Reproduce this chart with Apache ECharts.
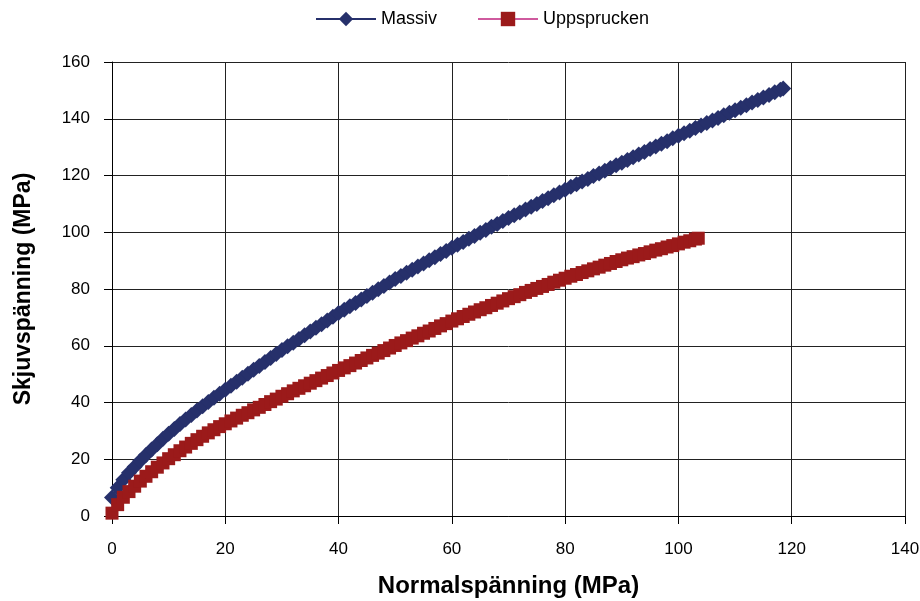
<!DOCTYPE html>
<html>
<head>
<meta charset="utf-8">
<script src="https://cdn.jsdelivr.net/npm/echarts@6/dist/echarts.min.js"></script>
<style>
  html, body { margin: 0; padding: 0; background: #ffffff; }
  #chart { width: 920px; height: 601px; }
</style>
</head>
<body>
<div id="chart"></div>
<script>
// Shear strength envelopes: shear stress vs normal stress (MPa)
const seriesNames = ['Massiv', 'Uppsprucken'];
const xTicks = [0, 20, 40, 60, 80, 100, 120, 140];
const yTicks = [0, 20, 40, 60, 80, 100, 120, 140, 160];

// Massiv: [normal stress, shear stress]
const massiv = [
  [0, 6.5], [1, 10.0], [2, 12.8], [3, 15.2], [4, 17.4], [5, 19.5], [6, 21.5], [7, 23.4], [8, 25.3], [9, 27.2],
  [10, 29.0], [11, 30.7], [12, 32.4], [13, 34.0], [14, 35.6], [15, 37.2], [16, 38.7], [17, 40.2], [18, 41.7], [19, 43.1],
  [20, 44.5], [21, 45.9], [22, 47.3], [23, 48.7], [24, 50.1], [25, 51.5], [26, 52.9], [27, 54.3], [28, 55.7], [29, 57.1],
  [30, 58.5], [31, 59.8], [32, 61.1], [33, 62.4], [34, 63.7], [35, 65.0], [36, 66.3], [37, 67.6], [38, 68.9], [39, 70.2],
  [40, 71.5], [41, 72.7], [42, 73.9], [43, 75.1], [44, 76.3], [45, 77.5], [46, 78.7], [47, 79.9], [48, 81.1], [49, 82.3],
  [50, 83.5], [51, 84.6], [52, 85.7], [53, 86.8], [54, 87.9], [55, 89.0], [56, 90.1], [57, 91.2], [58, 92.3], [59, 93.4],
  [60, 94.5], [61, 95.6], [62, 96.6], [63, 97.7], [64, 98.7], [65, 99.8], [66, 100.8], [67, 101.9], [68, 102.9], [69, 104.0],
  [70, 105.0], [71, 106.0], [72, 107.0], [73, 108.0], [74, 109.0], [75, 110.0], [76, 111.0], [77, 112.0], [78, 113.0], [79, 114.0],
  [80, 115.0], [81, 116.0], [82, 116.9], [83, 117.9], [84, 118.8], [85, 119.8], [86, 120.7], [87, 121.7], [88, 122.6], [89, 123.6],
  [90, 124.5], [91, 125.5], [92, 126.4], [93, 127.4], [94, 128.3], [95, 129.3], [96, 130.2], [97, 131.2], [98, 132.1], [99, 133.1],
  [100, 134.0], [101, 134.9], [102, 135.8], [103, 136.7], [104, 137.6], [105, 138.5], [106, 139.4], [107, 140.3], [108, 141.2], [109, 142.1],
  [110, 143.0], [111, 143.9], [112, 144.8], [113, 145.7], [114, 146.6], [115, 147.5], [116, 148.4], [117, 149.3], [118, 150.2], [118.5, 150.7]
];

// Uppsprucken: [normal stress, shear stress]
const uppsprucken = [
  [0, 1.0], [1, 4.0], [2, 6.6], [3, 8.6], [4, 10.5], [5, 12.3], [6, 14.0], [7, 15.6], [8, 17.2], [9, 18.7],
  [10, 20.2], [11, 21.6], [12, 23.0], [13, 24.3], [14, 25.6], [15, 26.9], [16, 28.1], [17, 29.3], [18, 30.4], [19, 31.5],
  [20, 32.5], [21, 33.5], [22, 34.5], [23, 35.5], [24, 36.4], [25, 37.4], [26, 38.3], [27, 39.3], [28, 40.3], [29, 41.2],
  [30, 42.2], [31, 43.1], [32, 44.1], [33, 45.0], [34, 45.9], [35, 46.8], [36, 47.7], [37, 48.6], [38, 49.5], [39, 50.4],
  [40, 51.3], [41, 52.2], [42, 53.0], [43, 53.9], [44, 54.8], [45, 55.7], [46, 56.6], [47, 57.4], [48, 58.3], [49, 59.2],
  [50, 60.1], [51, 61.0], [52, 61.8], [53, 62.7], [54, 63.5], [55, 64.4], [56, 65.2], [57, 66.1], [58, 67.0], [59, 67.8],
  [60, 68.7], [61, 69.5], [62, 70.3], [63, 71.1], [64, 71.9], [65, 72.7], [66, 73.4], [67, 74.2], [68, 75.0], [69, 75.8],
  [70, 76.6], [71, 77.3], [72, 78.0], [73, 78.8], [74, 79.5], [75, 80.2], [76, 80.9], [77, 81.6], [78, 82.4], [79, 83.1],
  [80, 83.8], [81, 84.5], [82, 85.1], [83, 85.8], [84, 86.4], [85, 87.1], [86, 87.7], [87, 88.4], [88, 89.0], [89, 89.7],
  [90, 90.3], [91, 90.9], [92, 91.4], [93, 92.0], [94, 92.5], [95, 93.1], [96, 93.7], [97, 94.2], [98, 94.8], [99, 95.3],
  [100, 95.9], [101, 96.5], [102, 97.0], [103, 97.6], [103.5, 97.9]
];

const FONT = '"Liberation Sans", Arial, sans-serif';
const chart = echarts.init(document.getElementById('chart'), null, { renderer: 'canvas' });

chart.setOption({
  animation: false,
  backgroundColor: '#ffffff',
  textStyle: { fontFamily: FONT, color: '#000' },
  legend: {
    top: 5,
    left: 310,
    itemWidth: 60,
    itemHeight: 18,
    itemGap: 40,
    textStyle: { fontFamily: FONT, fontSize: 18, color: '#000' },
    data: seriesNames
  },
  grid: { left: 112, right: 15, top: 62, bottom: 85, containLabel: false, outerBoundsMode: 'none' },
  xAxis: {
    type: 'value',
    min: xTicks[0],
    max: xTicks[xTicks.length - 1],
    interval: xTicks[1] - xTicks[0],
    name: 'Normalspänning (MPa)',
    nameLocation: 'middle',
    nameGap: 58,
    nameTextStyle: { fontFamily: FONT, fontSize: 24, fontWeight: 'bold', color: '#000' },
    axisLine: { show: true, onZero: false, lineStyle: { color: '#000', width: 1 } },
    axisTick: { show: true, inside: false, length: 8, lineStyle: { color: '#000' } },
    axisLabel: { margin: 25, fontSize: 17, color: '#000', fontFamily: FONT },
    splitLine: { show: true, lineStyle: { color: '#222', width: 1 } }
  },
  yAxis: {
    type: 'value',
    min: yTicks[0],
    max: yTicks[yTicks.length - 1],
    interval: yTicks[1] - yTicks[0],
    name: 'Skjuvspänning (MPa)',
    nameLocation: 'middle',
    nameGap: 77,
    nameRotate: 90,
    nameTextStyle: { fontFamily: FONT, fontSize: 23, fontWeight: 'bold', color: '#000' },
    axisLine: { show: true, onZero: false, lineStyle: { color: '#000', width: 1 } },
    axisTick: { show: true, inside: false, length: 8, lineStyle: { color: '#000' } },
    axisLabel: { margin: 22, fontSize: 17, color: '#000', fontFamily: FONT },
    splitLine: { show: true, lineStyle: { color: '#222', width: 1 } }
  },
  series: [
    {
      name: seriesNames[0],
      type: 'line',
      data: massiv,
      symbol: 'diamond',
      symbolSize: 16,
      showAllSymbol: true,
      lineStyle: { color: '#26306B', width: 2 },
      itemStyle: { color: '#26306B', borderWidth: 0 },
      z: 2
    },
    {
      name: seriesNames[1],
      type: 'line',
      data: uppsprucken,
      symbol: 'rect',
      symbolSize: 13,
      showAllSymbol: true,
      lineStyle: { color: '#CF5A9E', width: 2 },
      itemStyle: { color: '#9B1A1A', borderWidth: 0 },
      z: 3
    }
  ]
});
</script>
</body>
</html>
